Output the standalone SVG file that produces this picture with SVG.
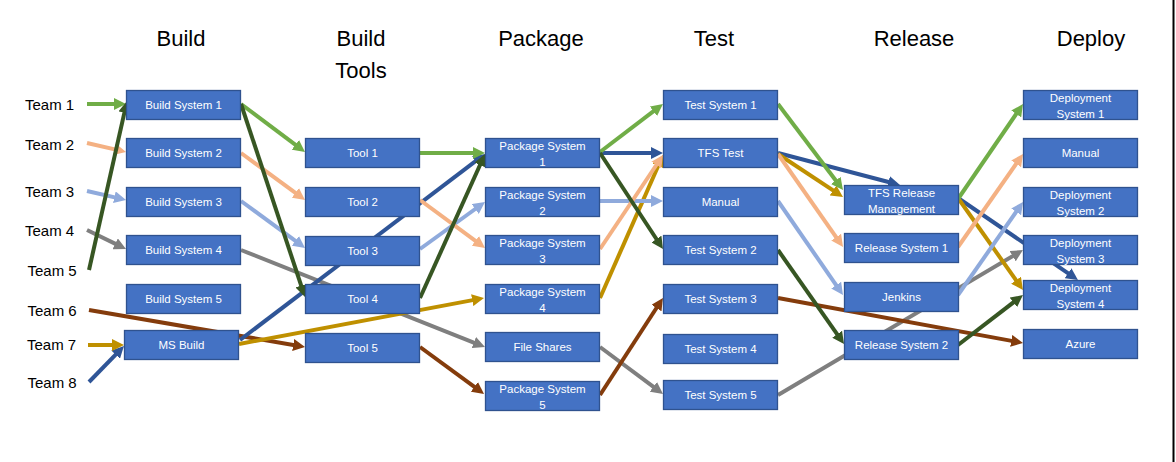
<svg xmlns="http://www.w3.org/2000/svg" width="1176" height="462" viewBox="0 0 1176 462">
<style>
.node rect{fill:#4472C4;stroke:#2F528F;stroke-width:1.3}
.node text{fill:#fff;font-family:"Liberation Sans",Arial,sans-serif;font-size:11.5px;text-anchor:middle}
.hdr{font-family:"Liberation Sans",Arial,sans-serif;font-size:22px;fill:#000;text-anchor:middle}
.team text{font-family:"Liberation Sans",Arial,sans-serif;font-size:15px;fill:#000}
#connectors line{stroke-width:4;fill:none}
.g{stroke:#70AD47;marker-end:url(#mG)}
.p{stroke:#F4B183;marker-end:url(#mP)}
.l{stroke:#8FAADC;marker-end:url(#mL)}
.y{stroke:#7F7F7F;marker-end:url(#mY)}
.d{stroke:#375623;marker-end:url(#mD)}
.b{stroke:#843C0C;marker-end:url(#mB)}
.o{stroke:#BF9000;marker-end:url(#mO)}
.n{stroke:#2F5597;marker-end:url(#mN)}
</style>
<defs>
<marker id="mG" viewBox="0 0 12 12" markerUnits="userSpaceOnUse" markerWidth="12" markerHeight="12" refX="6" refY="6" orient="auto"><path d="M0,0 L12,6 L0,12 z" fill="#70AD47"/></marker>
<marker id="mP" viewBox="0 0 12 12" markerUnits="userSpaceOnUse" markerWidth="12" markerHeight="12" refX="6" refY="6" orient="auto"><path d="M0,0 L12,6 L0,12 z" fill="#F4B183"/></marker>
<marker id="mL" viewBox="0 0 12 12" markerUnits="userSpaceOnUse" markerWidth="12" markerHeight="12" refX="6" refY="6" orient="auto"><path d="M0,0 L12,6 L0,12 z" fill="#8FAADC"/></marker>
<marker id="mY" viewBox="0 0 12 12" markerUnits="userSpaceOnUse" markerWidth="12" markerHeight="12" refX="6" refY="6" orient="auto"><path d="M0,0 L12,6 L0,12 z" fill="#7F7F7F"/></marker>
<marker id="mD" viewBox="0 0 12 12" markerUnits="userSpaceOnUse" markerWidth="12" markerHeight="12" refX="6" refY="6" orient="auto"><path d="M0,0 L12,6 L0,12 z" fill="#375623"/></marker>
<marker id="mB" viewBox="0 0 12 12" markerUnits="userSpaceOnUse" markerWidth="12" markerHeight="12" refX="6" refY="6" orient="auto"><path d="M0,0 L12,6 L0,12 z" fill="#843C0C"/></marker>
<marker id="mO" viewBox="0 0 12 12" markerUnits="userSpaceOnUse" markerWidth="12" markerHeight="12" refX="6" refY="6" orient="auto"><path d="M0,0 L12,6 L0,12 z" fill="#BF9000"/></marker>
<marker id="mN" viewBox="0 0 12 12" markerUnits="userSpaceOnUse" markerWidth="12" markerHeight="12" refX="6" refY="6" orient="auto"><path d="M0,0 L12,6 L0,12 z" fill="#2F5597"/></marker>
</defs>
<rect width="1176" height="462" fill="#fff"/>
<line x1="1173.5" y1="0" x2="1173.5" y2="462" stroke="#000" stroke-width="2"/>

<g id="headers">
<text class="hdr" x="181" y="46">Build</text>
<text class="hdr" x="361" y="46">Build</text>
<text class="hdr" x="361" y="78">Tools</text>
<text class="hdr" x="541" y="46">Package</text>
<text class="hdr" x="714" y="46">Test</text>
<text class="hdr" x="914" y="46">Release</text>
<text class="hdr" x="1091" y="46">Deploy</text>
</g>

<g id="teams">
<g id="team1" class="team"><text x="25" y="110">Team 1</text></g>
<g id="team2" class="team"><text x="25" y="150">Team 2</text></g>
<g id="team3" class="team"><text x="25" y="196.5">Team 3</text></g>
<g id="team4" class="team"><text x="25" y="235.5">Team 4</text></g>
<g id="team5" class="team"><text x="27.5" y="275.5">Team 5</text></g>
<g id="team6" class="team"><text x="27.5" y="315.5">Team 6</text></g>
<g id="team7" class="team"><text x="27" y="350">Team 7</text></g>
<g id="team8" class="team"><text x="27.5" y="387.5">Team 8</text></g>
</g>

<g id="connectors">
<!-- gray -->
<line class="y" x1="87" y1="230" x2="120.6" y2="246.4"/>
<line class="y" x1="241" y1="250" x2="479.4" y2="344.8"/>
<line class="y" x1="600" y1="347" x2="658.2" y2="390.4"/>
<line class="y" x1="778" y1="395" x2="1017.8" y2="253.1"/>
<!-- brown -->
<line class="b" x1="89" y1="310" x2="299.1" y2="346"/>
<line class="b" x1="420" y1="347" x2="479.2" y2="390.4"/>
<line class="b" x1="600" y1="395" x2="659.7" y2="303"/>
<line class="b" x1="778" y1="298" x2="1017.1" y2="341.9"/>
<!-- dark blue -->
<line class="n" x1="89" y1="382" x2="119.8" y2="350.3"/>
<line class="n" x1="240" y1="340" x2="480.2" y2="157.6"/>
<line class="n" x1="600" y1="153" x2="657" y2="153"/>
<line class="n" x1="778" y1="153" x2="894.2" y2="183.5"/>
<line class="n" x1="958" y1="198" x2="1073" y2="276.6"/>
<!-- gold -->
<line class="o" x1="88" y1="345" x2="118" y2="345"/>
<line class="o" x1="239" y1="344" x2="478.1" y2="299.1"/>
<line class="o" x1="600" y1="298" x2="660.6" y2="160.5"/>
<line class="o" x1="778" y1="154" x2="838" y2="193.7"/>
<line class="o" x1="958" y1="198" x2="1019.5" y2="285.1"/>
<!-- light blue -->
<line class="l" x1="87" y1="191" x2="120.2" y2="198.6"/>
<line class="l" x1="241" y1="201" x2="300.2" y2="244.4"/>
<line class="l" x1="420" y1="249" x2="480.1" y2="205.5"/>
<line class="l" x1="600" y1="201" x2="657" y2="201"/>
<line class="l" x1="778" y1="201" x2="839.6" y2="290.1"/>
<line class="l" x1="958" y1="295" x2="1019.6" y2="206.9"/>
<!-- peach -->
<line class="p" x1="87" y1="143" x2="120.2" y2="150.6"/>
<line class="p" x1="241" y1="153" x2="300.2" y2="196.4"/>
<line class="p" x1="420" y1="200" x2="480.2" y2="244.4"/>
<line class="p" x1="600" y1="249" x2="659.7" y2="160"/>
<line class="p" x1="778" y1="154" x2="839.6" y2="242.1"/>
<line class="p" x1="958" y1="247" x2="1019.6" y2="158.9"/>
<!-- light green -->
<line class="g" x1="87" y1="104" x2="120" y2="104"/>
<line class="g" x1="241" y1="104" x2="300.2" y2="148.4"/>
<line class="g" x1="420" y1="153" x2="479" y2="153"/>
<line class="g" x1="600" y1="152" x2="658.2" y2="107.6"/>
<line class="g" x1="778" y1="104" x2="839.4" y2="185.2"/>
<line class="g" x1="958" y1="199" x2="1019.6" y2="109"/>
<!-- dark green -->
<line class="d" x1="89" y1="270" x2="125.7" y2="106.9"/>
<line class="d" x1="241" y1="104" x2="303.1" y2="291.3"/>
<line class="d" x1="420" y1="298" x2="482.5" y2="159.5"/>
<line class="d" x1="600" y1="153" x2="659.7" y2="244"/>
<line class="d" x1="778" y1="250" x2="840.6" y2="339.1"/>
<line class="d" x1="958" y1="345" x2="1018.2" y2="298.7"/>
</g>

<g id="bs1" class="node"><rect x="126.5" y="90.5" width="114" height="29"/><text x="183.5" y="108.5">Build System 1</text></g>
<g id="bs2" class="node"><rect x="126.5" y="138.5" width="114" height="29"/><text x="183.5" y="156.5">Build System 2</text></g>
<g id="bs3" class="node"><rect x="126.5" y="187.5" width="114" height="29"/><text x="183.5" y="205.5">Build System 3</text></g>
<g id="bs4" class="node"><rect x="126.5" y="235.5" width="114" height="29"/><text x="183.5" y="253.5">Build System 4</text></g>
<g id="bs5" class="node"><rect x="126.5" y="284.5" width="114" height="29"/><text x="183.5" y="302.5">Build System 5</text></g>
<g id="msbuild" class="node"><rect x="124.5" y="330.5" width="114" height="29"/><text x="181.5" y="348.5">MS Build</text></g>

<g id="tool1" class="node"><rect x="305.5" y="138.5" width="114" height="29"/><text x="362.5" y="156.5">Tool 1</text></g>
<g id="tool2" class="node"><rect x="305.5" y="187.5" width="114" height="29"/><text x="362.5" y="205.5">Tool 2</text></g>
<g id="tool3" class="node"><rect x="305.5" y="236.5" width="114" height="29"/><text x="362.5" y="254.5">Tool 3</text></g>
<g id="tool4" class="node"><rect x="305.5" y="284.5" width="114" height="29"/><text x="362.5" y="302.5">Tool 4</text></g>
<g id="tool5" class="node"><rect x="305.5" y="333.5" width="114" height="29"/><text x="362.5" y="351.5">Tool 5</text></g>

<g id="ps1" class="node"><rect x="485.5" y="138.5" width="114" height="29"/><text x="542.5" y="149.5">Package System</text><text x="542.5" y="165.5">1</text></g>
<g id="ps2" class="node"><rect x="485.5" y="187.5" width="114" height="29"/><text x="542.5" y="198.5">Package System</text><text x="542.5" y="214.5">2</text></g>
<g id="ps3" class="node"><rect x="485.5" y="235.5" width="114" height="29"/><text x="542.5" y="246.5">Package System</text><text x="542.5" y="262.5">3</text></g>
<g id="ps4" class="node"><rect x="485.5" y="284.5" width="114" height="29"/><text x="542.5" y="295.5">Package System</text><text x="542.5" y="311.5">4</text></g>
<g id="fileshares" class="node"><rect x="485.5" y="332.5" width="114" height="29"/><text x="542.5" y="350.5">File Shares</text></g>
<g id="ps5" class="node"><rect x="485.5" y="381.5" width="114" height="29"/><text x="542.5" y="392.5">Package System</text><text x="542.5" y="408.5">5</text></g>

<g id="ts1" class="node"><rect x="663.5" y="90.5" width="114" height="29"/><text x="720.5" y="108.5">Test System 1</text></g>
<g id="tfstest" class="node"><rect x="663.5" y="138.5" width="114" height="29"/><text x="720.5" y="156.5">TFS Test</text></g>
<g id="testmanual" class="node"><rect x="663.5" y="187.5" width="114" height="29"/><text x="720.5" y="205.5">Manual</text></g>
<g id="ts2" class="node"><rect x="663.5" y="235.5" width="114" height="29"/><text x="720.5" y="253.5">Test System 2</text></g>
<g id="ts3" class="node"><rect x="663.5" y="284.5" width="114" height="29"/><text x="720.5" y="302.5">Test System 3</text></g>
<g id="ts4" class="node"><rect x="663.5" y="334.5" width="114" height="29"/><text x="720.5" y="352.5">Test System 4</text></g>
<g id="ts5" class="node"><rect x="663.5" y="380.5" width="114" height="29"/><text x="720.5" y="398.5">Test System 5</text></g>

<g id="tfsrm" class="node"><rect x="844.5" y="185.5" width="114" height="29"/><text x="901.5" y="196.5">TFS Release</text><text x="901.5" y="212.5">Management</text></g>
<g id="rs1" class="node"><rect x="844.5" y="233.5" width="114" height="29"/><text x="901.5" y="251.5">Release System 1</text></g>
<g id="jenkins" class="node"><rect x="844.5" y="282.5" width="114" height="29"/><text x="901.5" y="300.5">Jenkins</text></g>
<g id="rs2" class="node"><rect x="844.5" y="330.5" width="114" height="29"/><text x="901.5" y="348.5">Release System 2</text></g>

<g id="ds1" class="node"><rect x="1023.5" y="90.5" width="114" height="29"/><text x="1080.5" y="101.5">Deployment</text><text x="1080.5" y="117.5">System 1</text></g>
<g id="deploymanual" class="node"><rect x="1023.5" y="138.5" width="114" height="29"/><text x="1080.5" y="156.5">Manual</text></g>
<g id="ds2" class="node"><rect x="1023.5" y="187.5" width="114" height="29"/><text x="1080.5" y="198.5">Deployment</text><text x="1080.5" y="214.5">System 2</text></g>
<g id="ds3" class="node"><rect x="1023.5" y="235.5" width="114" height="29"/><text x="1080.5" y="246.5">Deployment</text><text x="1080.5" y="262.5">System 3</text></g>
<g id="ds4" class="node"><rect x="1023.5" y="280.5" width="114" height="29"/><text x="1080.5" y="291.5">Deployment</text><text x="1080.5" y="307.5">System 4</text></g>
<g id="azure" class="node"><rect x="1023.5" y="329.5" width="114" height="29"/><text x="1080.5" y="347.5">Azure</text></g>
</svg>
